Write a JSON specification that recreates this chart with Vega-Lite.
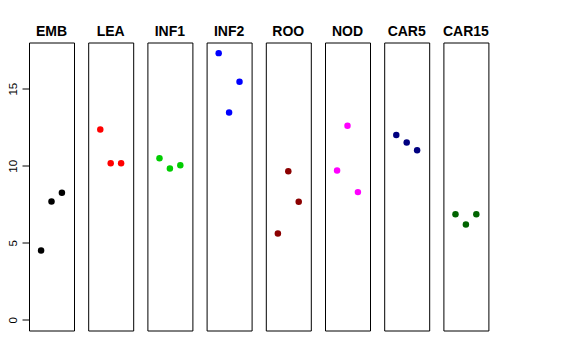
{
  "$schema": "https://vega.github.io/schema/vega-lite/v6.json",
  "background": "white",
  "padding": {"left": 5, "top": 24.5, "right": 5, "bottom": 5},
  "bounds": "flush",
  "config": {
    "view": {"stroke": "black", "strokeWidth": 1},
    "font": "Liberation Sans"
  },
  "data": {
    "values": [
      {"tissue": "EMB", "pos": 1, "value": 4.5},
      {"tissue": "EMB", "pos": 2, "value": 7.68},
      {"tissue": "EMB", "pos": 3, "value": 8.25},
      {"tissue": "LEA", "pos": 1, "value": 12.36},
      {"tissue": "LEA", "pos": 2, "value": 10.17},
      {"tissue": "LEA", "pos": 3, "value": 10.17},
      {"tissue": "INF1", "pos": 1, "value": 10.49},
      {"tissue": "INF1", "pos": 2, "value": 9.82},
      {"tissue": "INF1", "pos": 3, "value": 10.04},
      {"tissue": "INF2", "pos": 1, "value": 17.31},
      {"tissue": "INF2", "pos": 2, "value": 13.46},
      {"tissue": "INF2", "pos": 3, "value": 15.45},
      {"tissue": "ROO", "pos": 1, "value": 5.6},
      {"tissue": "ROO", "pos": 2, "value": 9.65},
      {"tissue": "ROO", "pos": 3, "value": 7.66},
      {"tissue": "NOD", "pos": 1, "value": 9.69},
      {"tissue": "NOD", "pos": 2, "value": 12.6},
      {"tissue": "NOD", "pos": 3, "value": 8.29},
      {"tissue": "CAR5", "pos": 1, "value": 11.99},
      {"tissue": "CAR5", "pos": 2, "value": 11.51},
      {"tissue": "CAR5", "pos": 3, "value": 11.01},
      {"tissue": "CAR15", "pos": 1, "value": 6.86},
      {"tissue": "CAR15", "pos": 2, "value": 6.19},
      {"tissue": "CAR15", "pos": 3, "value": 6.86}
    ]
  },
  "facet": {
    "column": {
      "field": "tissue",
      "type": "nominal",
      "sort": ["EMB", "LEA", "INF1", "INF2", "ROO", "NOD", "CAR5", "CAR15"],
      "title": null,
      "header": {
        "labelOrient": "top",
        "labelFont": "Liberation Sans",
        "labelFontSize": 14,
        "labelFontWeight": "bold",
        "labelColor": "black",
        "labelPadding": 4
      }
    }
  },
  "spacing": 14.2,
  "spec": {
    "width": 45,
    "height": 288,
    "mark": {"type": "circle", "size": 42, "opacity": 1},
    "encoding": {
      "x": {
        "field": "pos",
        "type": "quantitative",
        "scale": {"domain": [-0.16, 4.16], "nice": false, "zero": false},
        "axis": null
      },
      "y": {
        "field": "value",
        "type": "quantitative",
        "scale": {"domain": [-0.69, 18.0], "nice": false, "zero": false},
        "axis": {
          "title": null,
          "values": [0, 5, 10, 15],
          "grid": false,
          "domain": false,
          "tickColor": "black",
          "tickSize": 7,
          "labelAngle": -90,
          "labelAlign": "center",
          "labelBaseline": "bottom",
          "labelPadding": 4,
          "labelFont": "Liberation Sans",
          "labelFontSize": 11.5,
          "labelColor": "black",
          "minExtent": 24,
          "maxExtent": 24
        }
      },
      "color": {
        "field": "tissue",
        "type": "nominal",
        "scale": {
          "domain": ["EMB", "LEA", "INF1", "INF2", "ROO", "NOD", "CAR5", "CAR15"],
          "range": ["#000000", "#FF0000", "#00CD00", "#0000FF", "#8B0000", "#FF00FF", "#000080", "#006400"]
        },
        "legend": null
      }
    }
  }
}
